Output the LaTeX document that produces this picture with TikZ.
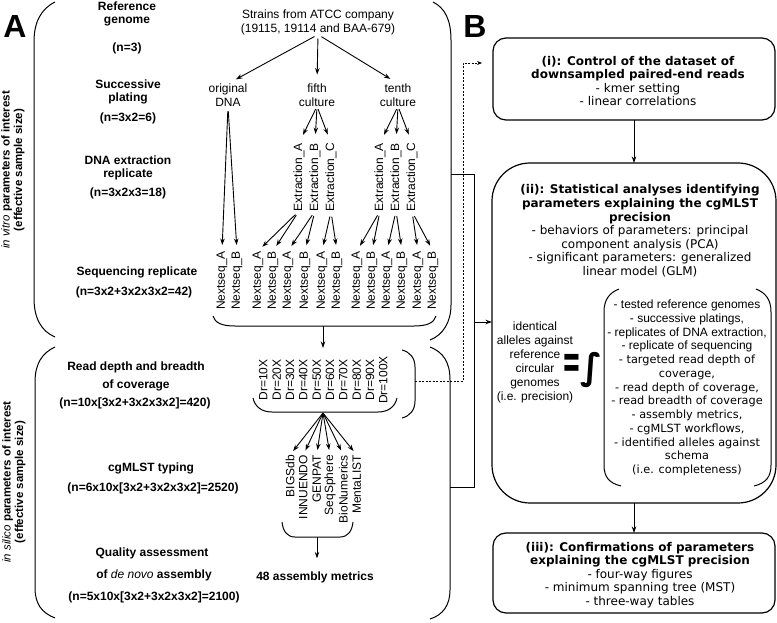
\documentclass[tikz,border=0pt]{standalone}
\usepackage{fontspec}
\setmainfont{Liberation Sans}
\newfontfamily\dvfont{DejaVu Sans}
\usetikzlibrary{arrows.meta}
\begin{document}
\begin{tikzpicture}[x=1pt,y=-1pt,
  every node/.style={inner sep=0pt, outer sep=0pt},
  lbl/.style={font=\fontsize{12}{13}\selectfont\bfseries, align=center},
  txt/.style={font=\fontsize{12}{14}\selectfont, align=center},
  vlab/.style={font=\fontsize{12}{14}\selectfont, rotate=90, anchor=east},
  vmid/.style={font=\fontsize{12}{14}\selectfont, rotate=90},
  side/.style={font=\fontsize{11.5}{12.5}\selectfont\bfseries, rotate=90, align=center},
  arr/.style={-{Stealth[length=6.5pt,width=4.5pt]}, line width=0.9pt},
  brk/.style={line width=1pt},
  bbox/.style={draw, line width=1.2pt},
  btxt/.style={font=\dvfont\fontsize{12}{13.6}\selectfont, align=center},
  dsh/.style={line width=0.8pt, dash pattern=on 2pt off 1.5pt, -{Stealth[length=5pt,width=4pt]}},
]
\useasboundingbox (0,0) rectangle (777,623);

% panel letters
\node[font=\fontsize{32}{32}\selectfont\bfseries] (lA) at (15,26) {A};
\node[font=\fontsize{32}{32}\selectfont\bfseries] (lB) at (475,26) {B};

% side labels
\node[side] (svitro) at (13,170) {{\mdseries\itshape in vitro} parameters of interest\\(effective sample size)};
\node[side] (ssilico) at (14,482) {{\mdseries\itshape in silico} parameters of interest\\(effective sample size)};

% left brackets
\draw[brk] (55,2) .. controls (41,9) and (34,22) .. (34,42) -- (34,298) .. controls (34,318) and (41,331) .. (55,337);
\draw[brk] (55,347) .. controls (42,353) and (35,364) .. (35,382) -- (35,588) .. controls (35,604) and (42,613) .. (55,618);
% right brackets
\draw[brk] (433,2) .. controls (445,8) and (451,20) .. (451,40) -- (451,305) .. controls (451,322) and (443,335) .. (430,340);
\draw[brk] (430,347) .. controls (443,352) and (450,362) .. (450,380) -- (450,590) .. controls (450,605) and (443,615) .. (430,619);

% left labels
\node[lbl] (refg) at (127,14) {Reference\\genome};
\node[lbl] (refn) at (127,48) {(n=3)};
\node[lbl] (plat) at (128,92) {Successive\\plating};
\node[lbl] (platn) at (128,118) {(n=3x2=6)};
\node[lbl] (dna) at (128,168) {DNA extraction\\replicate};
\node[lbl] (dnan) at (128,193) {(n=3x2x3=18)};
\node[lbl] (seq) at (137,272) {Sequencing replicate};
\node[lbl] (seqn) at (134,292) {(n=3x2+3x2x3x2=42)};
\node[lbl] (rd1) at (136,367) {Read depth and breadth};
\node[lbl] (rd2) at (136,385) {of coverage};
\node[lbl] (rdn) at (135,403) {(n=10x[3x2+3x2x3x2]=420)};
\node[lbl] (cg) at (151,468) {cgMLST typing};
\node[lbl] (cgn) at (153,488) {(n=6x10x[3x2+3x2x3x2]=2520)};
\node[lbl] (qa1) at (152,553) {Quality assessment};
\node[lbl] (qa2) at (154,575) {of {\mdseries\itshape de novo} assembly};
\node[lbl] (qan) at (154,597) {(n=5x10x[3x2+3x2x3x2]=2100)};

% tree
\node[txt] (atcc) at (318,22) {Strains from ATCC company\\(19115, 19114 and BAA-679)};
\node[txt] (orig) at (228,95) {original\\DNA};
\node[txt] (fifth) at (317,95) {fifth\\culture};
\node[txt] (tenth) at (398,95) {tenth\\culture};
\foreach \t in {orig,fifth,tenth}
  \draw[arr, shorten <=4pt, shorten >=9pt] (atcc.south) -- (\t.north);

\foreach \n/\x/\l in {e5a/299/A,e5b/315/B,e5c/331/C,eXa/380/A,eXb/396/B,eXc/412/C}
  \node[vlab] (\n) at (\x,143) {Extraction\_\l};
\foreach \t in {e5a,e5b,e5c}
  \draw[arr, shorten <=3pt, shorten >=9pt] (fifth.south) -- (\t.east);
\foreach \t in {eXa,eXb,eXc}
  \draw[arr, shorten <=3pt, shorten >=9pt] (tenth.south) -- (\t.east);

\foreach \i/\x/\l in {1/222/A,2/237/B,3/258/A,4/273/B,5/288/A,6/305/B,7/322/A,8/337/B,9/357/A,10/372/B,11/387/A,12/402/B,13/418/A,14/433/B}
  \node[vlab] (n\i) at (\x,251) {Nextseq\_\l};
\foreach \t in {n1,n2}
  \draw[arr, shorten <=5pt, shorten >=6pt] (orig.south) -- (\t.east);
\foreach \s/\t in {e5a/n3,e5a/n4,e5b/n5,e5b/n6,e5c/n7,e5c/n8,eXa/n9,eXa/n10,eXb/n11,eXb/n12,eXc/n13,eXc/n14}
  \draw[arr, shorten <=5pt, shorten >=6pt] (\s.west) -- (\t.east);

% bracket under Nextseq
\draw[brk] (213,316) .. controls (215,323) and (222,326) .. (235,326) -- (414,326) .. controls (427,326) and (434,323) .. (436,316);
\coordinate (nbm) at (323,326);
\coordinate (drtop) at (323,348);
\draw[arr] (nbm) -- (drtop);

% Dr labels
\foreach \i/\v in {1/10,2/20,3/30,4/40,5/50,6/60,7/70,8/80,9/90,10/100}
  \node[vmid] (d\i) at ({250+\i*13.33},380) {Dr=\v X};
\draw[brk] (253,398) .. controls (255,407) and (262,412) .. (272,412) -- (378,412) .. controls (388,412) and (395,407) .. (397,398);
\draw[brk] (402,350) .. controls (410,352) and (415,358) .. (415,367) -- (415,401) .. controls (415,410) and (410,416) .. (402,418);
\coordinate (dbm) at (323,413);

% cgMLST tools
\foreach \i/\t/\x in {1/BIGSdb/290,2/INNUENDO/303.3,3/GENPAT/316.7,4/SeqSphere/330,5/BioNumerics/343.3,6/MentaLIST/356.7}
  \node[vlab] (t\i) at (\x,455) {\t};
\foreach \i in {1,...,6}
  \draw[arr, shorten >=5pt] (dbm) -- (t\i.east);
\draw[brk] (282,522) .. controls (283,531) and (287,537) .. (295,537) -- (340,537) .. controls (348,537) and (352,531) .. (353,522);
\coordinate (tbm) at (317,537);
\node[lbl] (metrics) at (315,577) {48 assembly metrics};
\draw[arr, shorten >=13pt] (tbm) -- (tbm |- metrics.north);

% connectors to panel B
\coordinate (tj) at (451,175);
\coordinate (bj) at (450,487);
\draw[brk] (tj) -- (474,175) -- (474,487) -- (bj);
\coordinate (drb) at (415,381);
\draw[dsh] (drb) -- (463,381) -- (463,63) -- (482,63);

% panel B boxes
\node[bbox, rounded corners=13pt, minimum width=282pt, minimum height=82pt] (box1) at (634,79) {};
\node[bbox, rounded corners=38pt, minimum width=284pt, minimum height=340pt] (box2) at (634,333) {};
\node[bbox, rounded corners=13pt, minimum width=282pt, minimum height=80pt] (box3) at (634,573) {};
\draw[arr] (box1) -- (box2);
\draw[arr] (box2) -- (box3);
\coordinate (aj) at (474,322);
\draw[arr] (aj) -- (aj -| box2.west);

\node[btxt] (t1) at (638,81) {\textbf{(i): Control of the dataset of}\\\textbf{downsampled paired-end reads}\\- kmer setting\\- linear correlations};
\node[btxt] (t2) at (640,231) {\textbf{(ii): Statistical analyses identifying}\\\textbf{parameters explaining the cgMLST}\\\textbf{precision}\\- behaviors of parameters: principal\\component analysis (PCA)\\- significant parameters: generalized\\linear model (GLM)};
\node[btxt] (t3) at (640,575) {\textbf{(iii): Confirmations of parameters}\\\textbf{explaining the cgMLST precision}\\- four-way figures\\- minimum spanning tree (MST)\\- three-way tables};

\node[txt] (prec) at (535,362) {identical\\alleles against\\reference\\circular\\genomes\\(i.e. precision)};
\node[font=\dvfont\bfseries\fontsize{50}{50}\selectfont, xscale=0.45] (eqs) at (572,366) {=};
\node[font=\dvfont\bfseries\fontsize{36}{36}\selectfont] (intg) at (591,370) {∫};

\draw[brk] (619,289) .. controls (609,293) and (604,300) .. (604,312) -- (604,465) .. controls (604,477) and (609,483) .. (621,486);
\draw[brk] (756,289) .. controls (766,293) and (771,300) .. (771,312) -- (771,465) .. controls (771,477) and (766,483) .. (754,486);
\node[font=\dvfont\fontsize{11.3}{13.75}\selectfont, align=center] (plist) at (687,388) {{\rmfamily\fontsize{12}{13.75}\selectfont - tested reference genomes}\\{\rmfamily\fontsize{12}{13.75}\selectfont - successive platings,}\\{\rmfamily\fontsize{12}{13.75}\selectfont - replicates of DNA extraction,}\\{\rmfamily\fontsize{12}{13.75}\selectfont - replicate of sequencing}\\- targeted read depth of\\coverage,\\- read depth of coverage,\\- read breadth of coverage\\- assembly metrics,\\- cgMLST workflows,\\- identified alleles against\\schema\\(i.e. completeness)};
\end{tikzpicture}
\end{document}
